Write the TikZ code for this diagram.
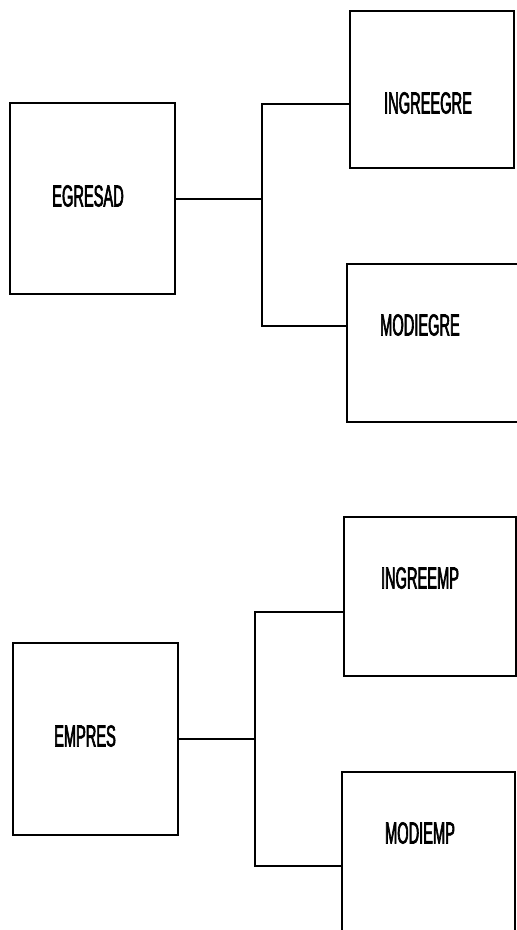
\documentclass[tikz,border=0pt]{standalone}
\usepackage{fontspec}
\newfontfamily\modfont[FakeStretch=0.48,FakeBold=2]{Liberation Sans}
\tikzset{
  modbox/.style={draw, line width=1.2pt, inner sep=0pt},
  modname/.style={font=\modfont\fontsize{26}{26}\selectfont, inner sep=0pt},
}
\begin{document}
\begin{tikzpicture}[x=0.03cm, y=-0.03cm, line width=1.2pt]
\useasboundingbox (0,0) rectangle (517,930);
% graduates
\node[modbox, minimum width=4.95cm, minimum height=5.73cm] (egresad) at (92.5,198.5) {};
\node[modbox, minimum width=4.92cm, minimum height=4.71cm] (ingreegre) at (432,89.5) {};
\node[modbox, minimum width=5.19cm, minimum height=4.74cm] (modiegre) at (433.5,343) {};
\node[modname] (tEgresad) at (88,196) {EGRESAD};
\node[modname] (tIngreegre) at (428,103) {INGREEGRE};
\node[modname] (tModiegre) at (420,325) {MODIEGRE};
\coordinate (egTop) at (262,104);
\coordinate (egMid) at (262,199);
\coordinate (egBot) at (262,326);
\draw (egresad.east |- egMid) -- (egMid);
\draw (ingreegre.west |- egTop) -- (egTop) -- (egBot) -- (modiegre.west |- egBot);
% companies
\node[modbox, minimum width=4.95cm, minimum height=5.76cm] (empres) at (95.5,739) {};
\node[modbox, minimum width=5.16cm, minimum height=4.77cm] (ingreemp) at (430,596.5) {};
\node[modbox, minimum width=5.19cm, minimum height=4.89cm] (modiemp) at (428.5,853.5) {};
\node[modname] (tEmpres) at (85,736) {EMPRES};
\node[modname] (tIngreemp) at (420,578) {INGREEMP};
\node[modname] (tModiemp) at (420,833) {MODIEMP};
\coordinate (emTop) at (255,612);
\coordinate (emMid) at (255,739);
\coordinate (emBot) at (255,866);
\draw (empres.east |- emMid) -- (emMid);
\draw (ingreemp.west |- emTop) -- (emTop) -- (emBot) -- (modiemp.west |- emBot);
\end{tikzpicture}
\end{document}
